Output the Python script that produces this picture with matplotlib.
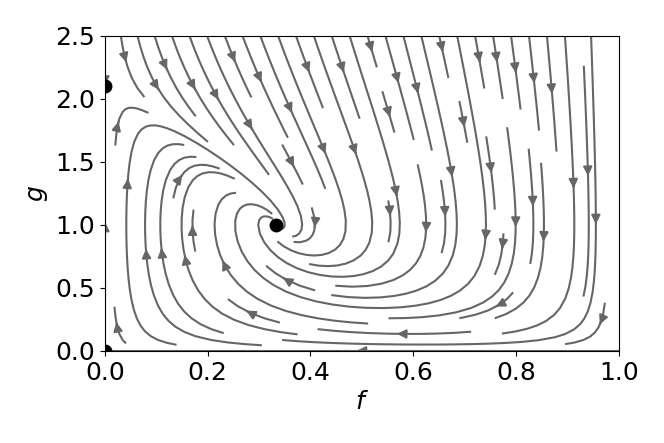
import numpy as np
import matplotlib
matplotlib.use("Agg")
import matplotlib.pyplot as plt

# model parameters and fixed points
r = 2.1
c = 3.3
fixed_f = [0.0, 0.0, 1/3]
fixed_g = [0.0, 2.1, 1.0]

f_range = [0.0, 1.0]
g_range = [0.0, 2.5]

f = np.linspace(f_range[0], f_range[1], 200)
g = np.linspace(g_range[0], g_range[1], 200)
F, G = np.meshgrid(f, g)
dF = F * (1 - F) * (G - 1)
dG = G * (r - G - c * F)

fig, ax = plt.subplots(figsize=(6.64, 4.43), dpi=100)
fig.subplots_adjust(left=0.158, right=0.932, top=0.919, bottom=0.208)
ax.streamplot(F, G, dF, dG, color='0.4', linewidth=1.5, density=1.0, arrowsize=1.3)
ax.plot(fixed_f, fixed_g, 'o', color='black', markersize=9)
ax.set_xlim(f_range)
ax.set_ylim(g_range)
ax.set_xlabel('$f$', fontsize=18)
ax.set_ylabel('$g$', fontsize=18)
ax.tick_params(labelsize=18)
ax.set_xticks([0.0, 0.2, 0.4, 0.6, 0.8, 1.0])
ax.set_yticks([0.0, 0.5, 1.0, 1.5, 2.0, 2.5])
fig.savefig('out.png', dpi=100)
